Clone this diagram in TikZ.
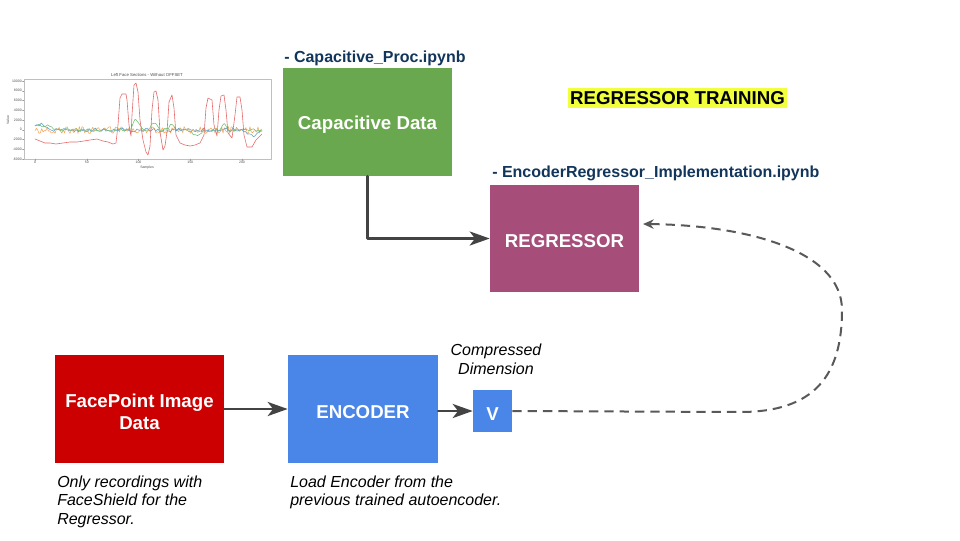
\documentclass[tikz,border=0pt]{standalone}
\usepackage{fontspec}
\setmainfont{Liberation Sans}
\usetikzlibrary{arrows.meta}
\definecolor{capgreen}{HTML}{6AA84F}
\definecolor{regpink}{HTML}{A64D79}
\definecolor{facered}{HTML}{CC0000}
\definecolor{encblue}{HTML}{4A86E8}
\definecolor{navy}{HTML}{12355B}
\definecolor{hilite}{HTML}{F2FF3C}
\definecolor{arrowgray}{HTML}{434343}
\definecolor{dashgray}{HTML}{595959}
\definecolor{pred}{HTML}{E46A6A}
\definecolor{pblue}{HTML}{5E9CCB}
\definecolor{porange}{HTML}{F6A55A}
\definecolor{pgreen}{HTML}{6CBF6C}
\begin{document}
\begin{tikzpicture}[x=0.75pt,y=-0.75pt,line join=round,line cap=round,
	box/.style={fill=#1,inner sep=0pt},
	boxtext/.style={text=white,font=\fontsize{14}{16.5}\selectfont\bfseries,align=center,inner sep=0pt,yshift=-2pt},
	file/.style={text=navy,font=\fontsize{12}{14}\selectfont\bfseries,inner sep=0pt,anchor=base west},
	note/.style={font=\fontsize{12}{13.9}\selectfont\itshape,inner sep=0pt},
	flow/.style={draw=arrowgray,line width=2.2pt,-{Stealth[length=15pt,width=10.5pt,inset=4pt]}},
	tiny/.style={font=\fontsize{2.6}{3}\selectfont,text=black!70,inner sep=0.5pt}]
	\useasboundingbox (0,0) rectangle (960,540);
	
	% small chart of the capacitive signals
	\draw[black!25,line width=0.3pt] (24,79) rectangle (271,159);
	\node[tiny,font=\fontsize{3.2}{4}\selectfont] (PlotTitle) at (147,75) {Left Face Sections - Without OFFSET};
	\node[tiny,rotate=90] (PlotY) at (8,120) {Value};
	\node[tiny] (PlotX) at (147,168) {Samples};
	\foreach \v [count=\i from 0] in {10000,8000,6000,4000,2000,0,-2000,-4000,-6000}{
		\draw[black!40,line width=0.2pt] (24,81+\i*9.75)--++(-1.5,0) node[tiny,anchor=east] {\v};
	};
	\foreach \s in {0,50,100,150,200}{
		\draw[black!40,line width=0.2pt] (35+\s*1.035,159)--++(0,1.5) node[tiny,anchor=north] {\s};
	};
	\pgfmathsetseed{7}
	\draw[porange,line width=0.4pt] plot[domain=35:262,samples=170] (\x,{130+3.5*rand});
	\draw[pblue,line width=0.4pt] plot[domain=35:262,samples=110,smooth] (\x,{130+2*rand-5*exp(-((\x-40)/10)^2)+6*exp(-((\x-252)/6)^2)});
	\draw[pgreen,line width=0.4pt] plot[domain=35:262,samples=110,smooth] (\x,{130+1.5*rand-5*exp(-((\x-42)/12)^2)-10*exp(-((\x-136)/4)^2)-7*exp(-((\x-154)/4)^2)-5*exp(-((\x-172)/4)^2)+5*exp(-((\x-197)/6)^2)-6*exp(-((\x-224)/3)^2)});
	\draw[pred,line width=0.45pt] plot coordinates {(35,139) (40,141) (45,143) (50,143) (56,144) (63,143) (70,142) (77,142) (84,141) (90,140) (97,139) (103,141) (108,142) (113,144) (116,143) (118,125) (120,98) (122,94) (126,94) (127,100) (129,125) (131,136) (132,115) (134,85) (136,83) (138,92) (140,120) (143,140) (146,152) (148,155) (150,146) (152,110) (154,92) (156,91) (158,100) (160,132) (163,150) (165,146) (167,132) (169,102) (172,95) (174,108) (176,135) (180,143) (185,145) (190,146) (195,145) (200,143) (204,135) (206,108) (208,98) (212,100) (214,125) (217,136) (219,110) (221,96) (224,95) (226,110) (228,133) (232,138) (235,115) (237,97) (240,97) (242,110) (244,135) (247,147) (252,147) (256,140) (260,136) (262,134)};
	
	% blocks
	\node[box=capgreen,minimum width=126.75pt,minimum height=81pt,label={[boxtext]center:Capacitive Data}] (Cap) at (367.5,122) {};
	\node[box=regpink,minimum width=111.75pt,minimum height=80.25pt,label={[boxtext]center:REGRESSOR}] (Reg) at (564.5,238.5) {};
	\node[box=facered,minimum width=126.75pt,minimum height=81pt,label={[boxtext]center:FacePoint Image\\Data}] (Face) at (139.5,409) {};
	\node[box=encblue,minimum width=112.5pt,minimum height=81pt,label={[boxtext]center:ENCODER}] (Enc) at (363,409) {};
	\node[box=encblue,minimum width=29.25pt,minimum height=31.5pt,label={[boxtext]center:V}] (V) at (492.5,411) {};
	
	% texts
	\node[file] (CapFile) at (284,62.5) {- Capacitive\_Proc.ipynb};
	\node[file] (RegFile) at (492,177.5) {- EncoderRegressor\_Implementation.ipynb};
	\node[fill=hilite,font=\fontsize{14}{16}\selectfont\bfseries,inner xsep=1.5pt,inner ysep=2.5pt] (Title) at (677.5,98) {REGRESSOR TRAINING};
	\node[note,align=center] (VNote) at (496,359.5) {Compressed\\Dimension};
	\node[note,align=left,anchor=north west] (FaceNote) at (57,475.5) {Only recordings with\\FaceShield for the\\Regressor.};
	\node[note,align=left,anchor=north west] (EncNote) at (290,475.5) {Load Encoder from the\\previous trained autoencoder.};
	
	% connectors
	\coordinate (RegIn) at (643,224);
	\draw[flow] (Cap.south) |- (Reg.west);
	\draw[flow] (Face) -- (Enc);
	\draw[flow] (Enc.east |- V.west) -- (V.west);
	\draw[dashgray,line width=1.5pt,line cap=butt,dash pattern=on 7pt off 4.5pt,-{Stealth[length=8pt,width=7pt]}]
		(V.east) -- (740,412) .. controls (815,412) and (842,375) .. (842,310)
		.. controls (842,250) and (745,225) .. (RegIn);
\end{tikzpicture}
\end{document}
